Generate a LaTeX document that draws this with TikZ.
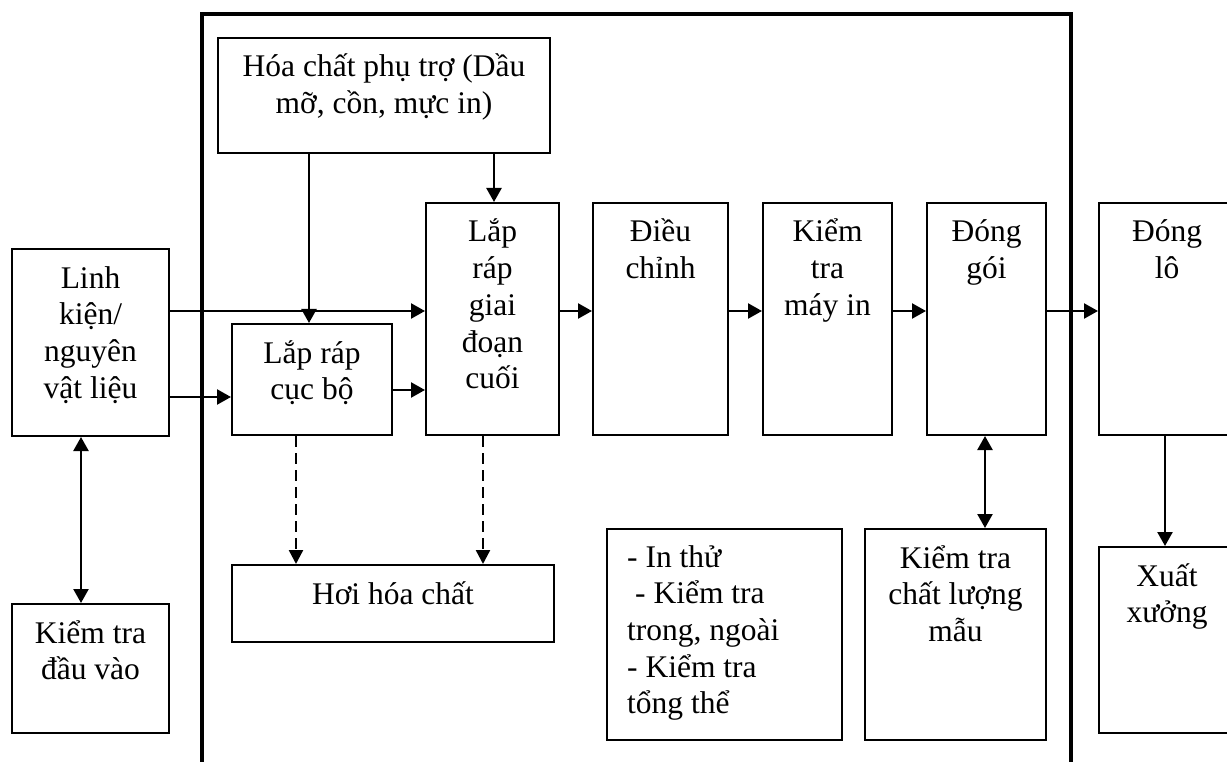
\documentclass[tikz,border=0pt]{standalone}
\usepackage{fontspec}
\setmainfont{Liberation Serif}
\usetikzlibrary{arrows.meta,calc}
\tikzset{
 box/.style={draw, line width=2pt, inner sep=0pt, anchor=north west},
 txt/.style={inner sep=0pt, anchor=base, font=\fontsize{31.5}{36.7}\selectfont},
 tip/.style={},
 arr/.style={line width=2.4pt, -{Triangle[length=14pt,width=15pt]}},
 darr/.style={line width=2.4pt, {Triangle[length=14pt,width=15pt]}-{Triangle[length=14pt,width=15pt]}},
 dasharr/.style={line width=2.4pt, dash pattern=on 11pt off 6pt, -{Triangle[length=14pt,width=14pt]}},
 frameline/.style={line width=3.5pt},
}
\newcommand{\mybox}[6]{%
 \node[box, minimum width=#4pt, minimum height=#5pt] (#1) at (#2,#3) {};
 \node[txt] (#1-t) at ($(#1.north)+(0,40)$) {\parbox[t]{#4pt}{\centering #6}};}
\begin{document}
\begin{tikzpicture}[x=1pt,y=-1pt]
\clip (0,0) rectangle (1227,762);
\fill[white] (0,0) rectangle (1227,762);
% frame
\draw[frameline] (202,780) -- (202,14) -- (1071,14) -- (1071,780);
% boxes
\mybox{hoa}{217}{37}{332}{115}{Hóa chất phụ trợ (Dầu\\mỡ, cồn, mực in)}
\mybox{linh}{11}{248}{157}{187}{Linh\\kiện/\\nguyên\\vật liệu}
\mybox{cucbo}{231}{323}{160}{111}{Lắp ráp\\cục bộ}
\mybox{cuoi}{425}{202}{133}{232}{Lắp\\ráp\\giai\\đoạn\\cuối}
\mybox{dieu}{592}{202}{135}{232}{Điều\\chỉnh}
\mybox{kt}{762}{202}{129}{232}{Kiểm\\tra\\máy in}
\mybox{dong}{926}{202}{119}{232}{Đóng\\gói}
\mybox{donglo}{1098}{202}{136}{232}{Đóng\\lô}
\mybox{ktdv}{11}{603}{157}{129}{Kiểm tra\\đầu vào}
\mybox{hoi}{231}{564}{322}{77}{Hơi hóa chất}
\mybox{ktcl}{864}{528}{181}{211}{Kiểm tra\\chất lượng\\mẫu}
\mybox{xuat}{1098}{546}{136}{186}{Xuất\\xưởng}
\node[box, minimum width=235pt, minimum height=211pt] (inthu) at (606,528) {};
\node[txt, anchor=base west] (inthu-t) at ($(inthu.north west)+(21,39)$)
 {\parbox[t]{210pt}{\raggedright - In thử\\\hspace*{8pt}- Kiểm tra\\trong, ngoài\\- Kiểm tra\\tổng thể}};
% helper coordinates
\coordinate (xa) at (309,0);
\coordinate (xb) at (494,0);
\coordinate (xc) at (296,0);
\coordinate (xd) at (483,0);
\coordinate (xe) at (81,0);
\coordinate (xf) at (985,0);
\coordinate (xg) at (1165,0);
\coordinate (ya) at (0,311);
\coordinate (yb) at (0,397);
\coordinate (yc) at (0,390);
% connectors
\draw[arr] (xa |- hoa.south) -- (xa |- cucbo.north);
\draw[arr] (xb |- hoa.south) -- (xb |- cuoi.north);
\draw[arr] (linh.east |- ya) -- (cuoi.west |- ya);
\draw[arr] (linh.east |- yb) -- (cucbo.west |- yb);
\draw[arr] (cucbo.east |- yc) -- (cuoi.west |- yc);
\draw[arr] (cuoi.east |- ya) -- (dieu.west |- ya);
\draw[arr] (dieu.east |- ya) -- (kt.west |- ya);
\draw[arr] (kt.east |- ya) -- (dong.west |- ya);
\draw[arr] (dong.east |- ya) -- (donglo.west |- ya);
\draw[darr] (xe |- linh.south) -- (xe |- ktdv.north);
\draw[darr] (xf |- dong.south) -- (xf |- ktcl.north);
\draw[arr] (xg |- donglo.south) -- (xg |- xuat.north);
\draw[dasharr] (xc |- cucbo.south) -- (xc |- hoi.north);
\draw[dasharr] (xd |- cuoi.south) -- (xd |- hoi.north);
\end{tikzpicture}
\end{document}
